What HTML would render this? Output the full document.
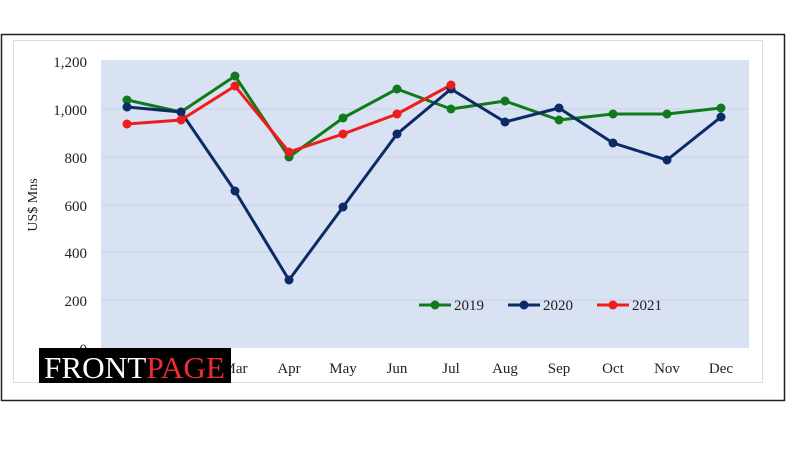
<!DOCTYPE html>
<html><head><meta charset="utf-8"><style>
body{margin:0;width:800px;height:450px;background:#fff;overflow:hidden}
text{font-family:"Liberation Serif",serif;fill:#222}
</style></head><body>
<svg width="800" height="450" xmlns="http://www.w3.org/2000/svg">
<rect x="1.5" y="34.5" width="783" height="366" fill="#fff" stroke="#222" stroke-width="1.5"/>
<rect x="13.5" y="40.5" width="749" height="342" fill="none" stroke="#ddd" stroke-width="1"/>
<rect x="101" y="60" width="648" height="288" fill="#d9e2f2"/>
<g stroke="#c9d3e5" stroke-width="1">
<line x1="101" x2="749" y1="109" y2="109"/><line x1="101" x2="749" y1="157" y2="157"/>
<line x1="101" x2="749" y1="205" y2="205"/><line x1="101" x2="749" y1="252" y2="252"/>
<line x1="101" x2="749" y1="300" y2="300"/>
</g>
<g font-size="15" text-anchor="end">
<text x="87" y="67">1,200</text><text x="87" y="115">1,000</text><text x="87" y="163">800</text>
<text x="87" y="211">600</text><text x="87" y="258">400</text><text x="87" y="306">200</text><text x="87" y="354">0</text>
</g>
<text x="37" y="205" font-size="14" text-anchor="middle" transform="rotate(-90 37 205)">US$ Mns</text>
<g font-size="15" text-anchor="middle">
<text x="127" y="373">Jan</text><text x="181" y="373">Feb</text><text x="235" y="373">Mar</text><text x="289" y="373">Apr</text>
<text x="343" y="373">May</text><text x="397" y="373">Jun</text><text x="451" y="373">Jul</text><text x="505" y="373">Aug</text>
<text x="559" y="373">Sep</text><text x="613" y="373">Oct</text><text x="667" y="373">Nov</text><text x="721" y="373">Dec</text>
</g>
<g fill="none" stroke-width="3" stroke-linejoin="round">
<polyline stroke="#0f7a1a" points="127,100 181,112 235,76 289,157 343,118 397,89 451,109 505,101 559,120 613,114 667,114 721,108"/>
<polyline stroke="#0c2a66" points="127,107 181,112 235,191 289,280 343,207 397,134 451,89 505,122 559,108 613,143 667,160 721,117"/>
<polyline stroke="#ee1c1c" points="127,124 181,120 235,86 289,152 343,134 397,114 451,85"/>
</g>
<g fill="#0f7a1a"><circle cx="127" cy="100" r="4.5"/><circle cx="181" cy="112" r="4.5"/><circle cx="235" cy="76" r="4.5"/><circle cx="289" cy="157" r="4.5"/><circle cx="343" cy="118" r="4.5"/><circle cx="397" cy="89" r="4.5"/><circle cx="451" cy="109" r="4.5"/><circle cx="505" cy="101" r="4.5"/><circle cx="559" cy="120" r="4.5"/><circle cx="613" cy="114" r="4.5"/><circle cx="667" cy="114" r="4.5"/><circle cx="721" cy="108" r="4.5"/></g>
<g fill="#0c2a66"><circle cx="127" cy="107" r="4.5"/><circle cx="181" cy="112" r="4.5"/><circle cx="235" cy="191" r="4.5"/><circle cx="289" cy="280" r="4.5"/><circle cx="343" cy="207" r="4.5"/><circle cx="397" cy="134" r="4.5"/><circle cx="451" cy="89" r="4.5"/><circle cx="505" cy="122" r="4.5"/><circle cx="559" cy="108" r="4.5"/><circle cx="613" cy="143" r="4.5"/><circle cx="667" cy="160" r="4.5"/><circle cx="721" cy="117" r="4.5"/></g>
<g fill="#ee1c1c"><circle cx="127" cy="124" r="4.5"/><circle cx="181" cy="120" r="4.5"/><circle cx="235" cy="86" r="4.5"/><circle cx="289" cy="152" r="4.5"/><circle cx="343" cy="134" r="4.5"/><circle cx="397" cy="114" r="4.5"/><circle cx="451" cy="85" r="4.5"/></g>
<g font-size="15" stroke-width="3">
<line x1="419" x2="451" y1="305" y2="305" stroke="#0f7a1a"/><circle cx="435" cy="305" r="4.5" fill="#0f7a1a"/><text x="454" y="310">2019</text>
<line x1="508" x2="540" y1="305" y2="305" stroke="#0c2a66"/><circle cx="524" cy="305" r="4.5" fill="#0c2a66"/><text x="543" y="310">2020</text>
<line x1="597" x2="629" y1="305" y2="305" stroke="#ee1c1c"/><circle cx="613" cy="305" r="4.5" fill="#ee1c1c"/><text x="632" y="310">2021</text>
</g>
<rect x="39" y="348" width="192" height="35" fill="#000"/>
<text x="44" y="378" font-size="31" textLength="181" lengthAdjust="spacingAndGlyphs" style="fill:#fff">FRONT<tspan style="fill:#ee2a33">PAGE</tspan></text>
</svg>
</body></html>
